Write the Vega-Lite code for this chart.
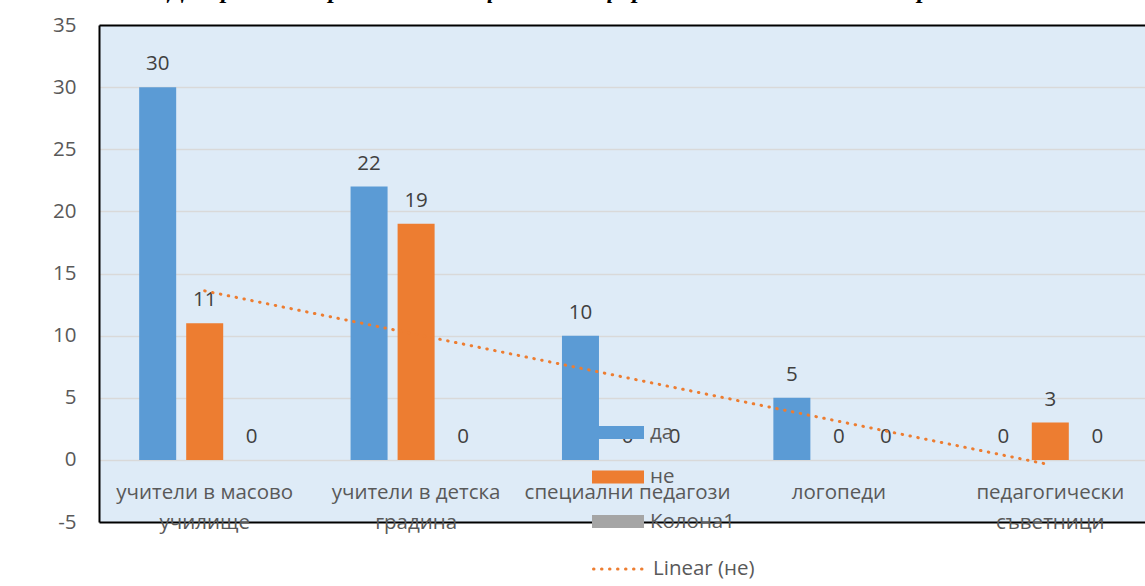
{
  "$schema": "https://vega.github.io/schema/vega-lite/v6.json",
  "width": 1046,
  "height": 497,
  "autosize": {"type": "none"},
  "padding": {"left": 99, "top": 25, "right": 0, "bottom": 64},
  "background": "#ffffff",
  "title": {
    "text": "Диаграма 5: Прилагате ли ефективни форми на взаимодействие с родителите.",
    "font": "Liberation Serif",
    "fontSize": 25,
    "fontWeight": "bold",
    "fontStyle": "italic",
    "color": "#000000",
    "anchor": "middle",
    "frame": "group",
    "baseline": "alphabetic",
    "offset": -8,
    "dx": -7
  },
  "config": {
    "view": {"stroke": null, "fill": "#DEEBF7"}
  },
  "datasets": {
    "bars": [
      {"cat": "учители в масово училище", "series": "да", "value": 30},
      {"cat": "учители в масово училище", "series": "не", "value": 11},
      {"cat": "учители в масово училище", "series": "Колона1", "value": 0},
      {"cat": "учители в детска градина", "series": "да", "value": 22},
      {"cat": "учители в детска градина", "series": "не", "value": 19},
      {"cat": "учители в детска градина", "series": "Колона1", "value": 0},
      {"cat": "специални педагози", "series": "да", "value": 10},
      {"cat": "специални педагози", "series": "не", "value": 0},
      {"cat": "специални педагози", "series": "Колона1", "value": 0},
      {"cat": "логопеди", "series": "да", "value": 5},
      {"cat": "логопеди", "series": "не", "value": 0},
      {"cat": "логопеди", "series": "Колона1", "value": 0},
      {"cat": "педагогически съветници", "series": "да", "value": 0},
      {"cat": "педагогически съветници", "series": "не", "value": 3},
      {"cat": "педагогически съветници", "series": "Колона1", "value": 0}
    ],
    "trend": [
      {"cat": "учители в масово училище", "trend": 13.6},
      {"cat": "педагогически съветници", "trend": -0.4}
    ]
  },
  "layer": [
    {
      "data": {"name": "bars"},
      "mark": {"type": "bar"},
      "encoding": {
        "x": {
          "field": "cat",
          "type": "nominal",
          "scale": {
            "domain": ["учители в масово училище", "учители в детска градина", "специални педагози", "логопеди", "педагогически съветници"],
            "range": [0, 1057],
            "paddingInner": 0.38,
            "paddingOuter": 0.19
          },
          "axis": {
            "title": null,
            "orient": "bottom",
            "offset": -24,
            "domain": false,
            "ticks": false,
            "grid": false,
            "labelPadding": 0,
            "labelBaseline": "alphabetic",
            "labelLineHeight": 30,
            "labelFont": "Open Sans",
            "labelFontSize": 20.5,
            "labelColor": "#595959",
            "labelLimit": 0,
            "labelOverlap": false,
            "labelBound": false,
            "labelAngle": 0,
            "labelExpr": "datum.label == 'учители в масово училище' ? ['учители в масово', 'училище'] : datum.label == 'учители в детска градина' ? ['учители в детска', 'градина'] : datum.label == 'педагогически съветници' ? ['педагогически', 'съветници'] : datum.label"
          }
        },
        "xOffset": {
          "field": "series",
          "type": "nominal",
          "scale": {"domain": ["да", "не", "Колона1"], "paddingInner": 0.213, "paddingOuter": 0}
        },
        "y": {
          "field": "value",
          "type": "quantitative",
          "scale": {"domain": [-5, 35], "nice": false, "zero": false},
          "axis": {
            "title": null,
            "values": [-5, 0, 5, 10, 15, 20, 25, 30, 35],
            "labelExpr": "toString(datum.value)",
            "domain": true,
            "domainColor": "#000000",
            "domainWidth": 2,
            "ticks": false,
            "tickSize": 0,
            "labelPadding": 23,
            "labelFont": "Open Sans",
            "labelFontSize": 20.5,
            "labelColor": "#595959",
            "grid": true,
            "gridColor": {"condition": {"test": "datum.value == -5 || datum.value == 35", "value": "#000000"}, "value": "#D9D9D9"},
            "gridWidth": {"condition": {"test": "datum.value == -5 || datum.value == 35", "value": 2}, "value": 1.5}
          }
        },
        "color": {
          "field": "series",
          "type": "nominal",
          "scale": {"domain": ["да", "не", "Колона1"], "range": ["#5B9BD5", "#ED7D31", "#A5A5A5"]},
          "legend": {
            "title": null,
            "orient": "none",
            "legendX": 493,
            "legendY": 381.5,
            "padding": 0,
            "symbolType": "M-1,-0.25H1V0.25H-1Z",
            "symbolSize": 2704,
            "symbolStrokeWidth": 0,
            "symbolOpacity": 1,
            "labelOffset": 6,
            "rowPadding": 7.5,
            "labelFont": "Open Sans",
            "labelFontSize": 20.5,
            "labelColor": "#595959",
            "labelLimit": 0
          }
        }
      }
    },
    {
      "data": {"name": "bars"},
      "mark": {"type": "text", "dy": -17, "baseline": "alphabetic", "font": "Open Sans", "fontSize": 20.5, "color": "#404040"},
      "encoding": {
        "x": {"field": "cat", "type": "nominal"},
        "xOffset": {"field": "series", "type": "nominal"},
        "y": {"field": "value", "type": "quantitative"},
        "text": {"field": "value", "type": "quantitative"}
      }
    },
    {
      "data": {"name": "trend"},
      "mark": {"type": "line", "strokeWidth": 3, "strokeDash": [0.5, 7.5], "strokeCap": "round"},
      "encoding": {
        "x": {"field": "cat", "type": "nominal"},
        "y": {"field": "trend", "type": "quantitative"},
        "stroke": {
          "datum": "Linear (не)",
          "type": "nominal",
          "scale": {"domain": ["Linear (не)"], "range": ["#ED7D31"]},
          "legend": {
            "title": null,
            "orient": "none",
            "legendX": 493,
            "legendY": 516.5,
            "padding": 0,
            "symbolType": "M-1,0H1",
            "symbolSize": 2704,
            "symbolStrokeWidth": 3,
            "symbolDash": [0.5, 7.5],
            "symbolFillColor": "transparent",
            "labelOffset": 6,
            "labelFont": "Open Sans",
            "labelFontSize": 20.5,
            "labelColor": "#595959",
            "labelLimit": 0,
            "encode": {"symbols": {"update": {"strokeCap": {"value": "round"}}}}
          }
        }
      }
    }
  ]
}
